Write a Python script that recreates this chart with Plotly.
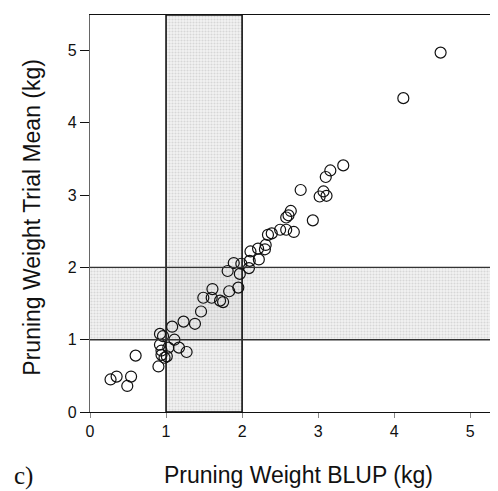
import plotly.graph_objects as go

blup = [4.61, 4.12, 3.33, 3.16, 3.10, 2.77, 3.07, 3.02, 3.11, 2.64, 2.61, 2.58, 2.93,
        2.50, 2.58, 2.68, 2.39, 2.34, 2.31, 2.30, 2.21, 2.11, 2.22, 2.10, 2.09, 1.99,
        1.89, 1.81, 1.97, 1.61, 1.95, 1.83, 1.49, 1.60, 1.71, 1.75, 1.46, 1.23, 1.38,
        1.08, 0.92, 0.96, 1.11, 0.92, 1.03, 1.17, 1.27, 0.94, 0.94, 1.01, 0.98, 0.60,
        0.90, 0.35, 0.27, 0.54, 0.49]
trial_mean = [4.97, 4.34, 3.41, 3.34, 3.25, 3.07, 3.05, 2.98, 2.99, 2.78, 2.72, 2.69, 2.65,
              2.52, 2.52, 2.49, 2.47, 2.45, 2.31, 2.25, 2.26, 2.22, 2.11, 2.09, 1.99, 2.05,
              2.06, 1.95, 1.91, 1.70, 1.72, 1.67, 1.58, 1.58, 1.54, 1.52, 1.39, 1.25, 1.22,
              1.18, 1.08, 1.05, 1.00, 0.93, 0.89, 0.89, 0.83, 0.85, 0.79, 0.77, 0.75, 0.78,
              0.63, 0.49, 0.45, 0.49, 0.36]
tick_vals = [0, 1, 2, 3, 4, 5]
band_low, band_high = 1, 2
x_max, y_max = 5.47, 5.49

fig = go.Figure()

pattern = dict(shape=".", size=3, solidity=0.35, fgcolor="#bdbdbd")
# vertical band (BLUP between 1 and 2)
fig.add_trace(go.Scatter(
    x=[band_low, band_high, band_high, band_low, band_low],
    y=[0, 0, y_max, y_max, 0],
    mode="lines", fill="toself", fillcolor="rgba(225,225,225,0.45)",
    fillpattern=pattern, line=dict(width=0), hoverinfo="skip", showlegend=False))
# horizontal band (trial mean between 1 and 2)
fig.add_trace(go.Scatter(
    x=[0, x_max + 0.1, x_max + 0.1, 0, 0],
    y=[band_low, band_low, band_high, band_high, band_low],
    mode="lines", fill="toself", fillcolor="rgba(225,225,225,0.45)",
    fillpattern=pattern, line=dict(width=0), hoverinfo="skip", showlegend=False))

fig.add_trace(go.Scatter(
    x=blup, y=trial_mean, mode="markers",
    marker=dict(symbol="circle-open", size=11, color="#111111", line=dict(width=1.2)),
    showlegend=False, cliponaxis=False))

fig.add_shape(type="rect", xref="x", yref="y", x0=band_low, x1=band_high, y0=0, y1=y_max,
              fillcolor="rgba(0,0,0,0)", line=dict(color="#111111", width=1.6), layer="above")
fig.add_shape(type="line", xref="x", yref="y", x0=0, x1=x_max + 0.1, y0=band_low, y1=band_low,
              line=dict(color="#333333", width=1.4), layer="above")
fig.add_shape(type="line", xref="x", yref="y", x0=0, x1=x_max + 0.1, y0=band_high, y1=band_high,
              line=dict(color="#333333", width=1.4), layer="above")

fig.update_layout(
    width=498, height=491,
    margin=dict(l=82, r=0, t=7, b=87),
    paper_bgcolor="white", plot_bgcolor="white",
    font=dict(family="Liberation Sans, Arial", color="#111111"),
    xaxis=dict(range=[0, x_max], tickvals=tick_vals, showgrid=False, zeroline=False,
               showline=True, linecolor="#111111", linewidth=1.2, mirror=True,
               ticks="outside", ticklen=5, tickcolor="#888888", tickwidth=1,
               tickfont=dict(size=16), fixedrange=True),
    yaxis=dict(range=[0, y_max], tickvals=tick_vals, showgrid=False, zeroline=False,
               showline=True, linecolor="#666666", linewidth=1.2,
               ticks="outside", ticklen=9, tickcolor="#111111", tickwidth=1,
               tickfont=dict(size=16), fixedrange=True),
    annotations=[
        dict(text="Pruning Weight BLUP (kg)", xref="paper", yref="paper", x=0.5, y=-0.159,
             xanchor="center", yanchor="middle", showarrow=False, font=dict(size=23)),
        dict(text="Pruning Weight Trial Mean (kg)", xref="paper", yref="paper", x=-0.139, y=0.49,
             xanchor="center", yanchor="middle", textangle=-90, showarrow=False,
             font=dict(size=23)),
        dict(text="c)", xref="paper", yref="paper", x=-0.187, y=-0.16,
             xanchor="left", yanchor="middle", showarrow=False,
             font=dict(size=25, family="Liberation Serif, Times New Roman")),
    ],
)

fig.write_html("out.html")
